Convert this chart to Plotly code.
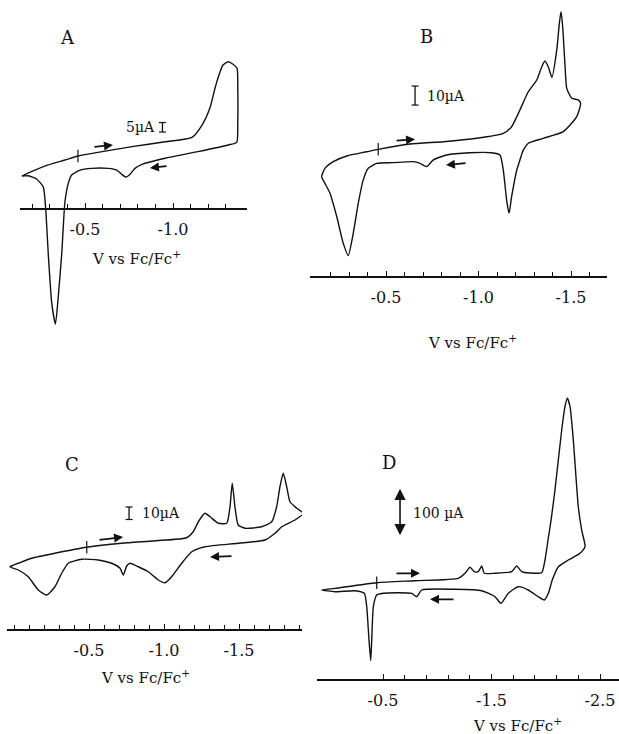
import numpy as np
import plotly.graph_objects as go

W, H = 619, 734
FONT = "DejaVu Serif"
INK = "#111111"

# ---- Cyclic voltammograms: potential (V vs Fc/Fc+) and current (µA) ----
# Each loop starts at the initial potential, runs cathodic (right), returns anodic (left)
a_potential = [-0.460, -0.597, -0.767, -0.955, -1.108, -1.165, -1.210, -1.239, -1.267, -1.284,
               -1.313, -1.341, -1.364, -1.368, -1.368, -1.362,
               -1.313, -1.142, -0.955, -0.824, -0.784, -0.756, -0.733, -0.708, -0.680, -0.632,
               -0.538, -0.472, -0.424, -0.405, -0.386, -0.368, -0.348, -0.332, -0.311, -0.291,
               -0.277, -0.263, -0.225, -0.178, -0.142,
               -0.216, -0.291, -0.386, -0.460]
a_current = [27.9, 30.2, 32.8, 35.4, 37.7, 44.2, 53.2, 63.7, 72.1, 75.8,
             77.5, 76.2, 74.1, 63.7, 45.8, 35.1,
             33.7, 30.2, 26.7, 23.5, 21.4, 18.3, 16.8, 18.3, 20.5, 21.4,
             21.4, 20.5, 17.9, 13.5, 3.8, -23.2, -46.3, -60.5, -49.5, -23.2,
             -0.5, 11.6, 15.8, 17.5, 17.4,
             20.5, 23.2, 25.8, 27.9]

b_potential = [-0.458, -0.630, -0.810, -0.990, -1.134, -1.179, -1.224, -1.269, -1.315, -1.342,
               -1.359, -1.377, -1.397, -1.423, -1.437, -1.446, -1.455, -1.468, -1.477, -1.504,
               -1.539, -1.552,
               -1.531, -1.458, -1.350, -1.269, -1.242, -1.224, -1.207, -1.179, -1.165, -1.152,
               -1.134, -1.116, -1.071, -0.954, -0.828, -0.756, -0.720, -0.684, -0.648, -0.539,
               -0.450, -0.404, -0.377, -0.350, -0.323, -0.296, -0.269, -0.234, -0.197, -0.170,
               -0.152,
               -0.170, -0.215, -0.288, -0.396, -0.458]
b_current = [67.2, 70.0, 71.2, 73.0, 75.6, 79.1, 87.9, 97.5, 103.7, 110.7,
             113.7, 110.7, 105.1, 119.5, 133.5, 139.6, 131.7, 110.7, 99.3, 94.1,
             93.2, 91.4,
             84.4, 76.5, 73.0, 70.4, 66.8, 61.6, 56.3, 42.3, 33.5, 40.5,
             56.3, 64.2, 65.4, 65.4, 64.2, 61.6, 58.1, 59.8, 60.7, 60.2,
             59.8, 57.2, 51.1, 38.8, 23.0, 11.3, 17.7, 31.7, 44.1, 49.3,
             52.8,
             57.2, 60.7, 63.7, 65.9, 67.2]

c_potential = [-0.485, -0.718, -0.940, -1.151, -1.195, -1.229, -1.273, -1.307, -1.362, -1.418,
               -1.440, -1.455, -1.473, -1.495, -1.540, -1.651, -1.718, -1.751, -1.773, -1.795,
               -1.818, -1.840, -1.885, -1.929,
               -1.873, -1.785, -1.740, -1.673, -1.495, -1.273, -1.185, -1.118, -1.051, -1.007,
               -0.962, -0.895, -0.829, -0.773, -0.751, -0.729, -0.707, -0.651, -0.562, -0.451,
               -0.362, -0.318, -0.273, -0.218, -0.162, -0.095, -0.029, 0.027,
               -0.029, -0.118, -0.273, -0.485]
c_current = [66.2, 69.4, 71.4, 73.8, 78.6, 86.6, 93.4, 90.6, 85.4, 85.4,
             98.6, 117.4, 98.6, 84.0, 81.4, 82.6, 86.6, 98.6, 114.6, 125.4,
             114.6, 102.6, 97.4, 93.4,
             88.0, 82.6, 77.4, 72.0, 69.4, 66.6, 62.6, 53.4, 42.6, 37.8,
             40.0, 46.6, 50.6, 53.4, 51.2, 44.0, 49.4, 53.4, 56.0, 56.6,
             53.4, 45.4, 34.6, 28.0, 32.0, 42.6, 48.0, 50.6,
             53.4, 57.4, 61.4, 66.2]

d_potential = [-0.442, -0.795, -1.194, -1.256, -1.302, -1.341, -1.378, -1.410, -1.434, -1.532,
               -1.686, -1.732, -1.778, -1.901, -1.963, -1.993, -2.021, -2.049, -2.085, -2.147,
               -2.177, -2.199, -2.224, -2.254, -2.300, -2.331, -2.362,
               -2.316, -2.208, -2.116, -2.060, -2.024, -1.987, -1.931, -1.839, -1.747, -1.655,
               -1.588, -1.532, -1.410, -1.164, -0.857, -0.811, -0.765, -0.641, -0.503, -0.442,
               -0.411, -0.396, -0.387, -0.371, -0.350, -0.328, -0.242, -0.058, 0.065,
               -0.058, -0.442]
d_current = [202.7, 206.9, 211.9, 222.3, 234.8, 225.6, 225.6, 237.5, 222.3, 222.3,
             225.6, 237.5, 225.6, 222.3, 223.5, 250.0, 291.7, 333.0, 395.8, 520.8,
             569.4, 586.9, 569.4, 500.0, 361.0, 312.5, 277.7,
             264.0, 250.0, 236.0, 208.3, 180.6, 166.7, 173.5, 187.5, 194.4, 180.6,
             159.8, 173.5, 186.0, 189.0, 187.5, 173.5, 180.6, 181.9, 180.6, 177.0,
             152.7, 83.3, 40.2, 83.3, 152.7, 180.6, 186.0, 184.0, 187.5,
             191.0, 202.7]

# initial potential of each scan (small vertical tick on the trace)
start_potential = [-0.460, -0.458, -0.485, -0.442]
start_current = [27.9, 67.2, 66.2, 202.7]

# current scale bars: potential, lower current, size in µA, label
scale_potential = [-0.940, -0.657, -0.767, -0.657]
scale_base = [40.5, 90.5, 88.4, 298.5]
scale_size = [5, 10, 10, 100]
scale_text = ["5µA", "10µA", "10µA", "100 µA"]

# scan-direction arrows: (tail V, tail I, head V, head I)
arrows_a = [(-0.545, 32.6, -0.659, 33.7), (-0.972, 22.6, -0.869, 21.6)]
arrows_b = [(-0.549, 71.7, -0.657, 72.5), (-0.938, 60.0, -0.824, 58.9)]
arrows_c = [(-0.560, 72.0, -0.727, 74.4), (-1.460, 59.2, -1.307, 58.4)]
arrows_d = [(-0.611, 222.3, -0.841, 222.3), (-1.164, 168.1, -0.933, 168.1)]

panel_letters = ["A", "B", "C", "D"]
tick_labels = [["-0.5", "-1.0"], ["-0.5", "-1.0", "-1.5"],
               ["-0.5", "-1.0", "-1.5"], ["-0.5", "-1.5", "-2.5"]]
tick_values = [[-0.5, -1.0], [-0.5, -1.0, -1.5], [-0.5, -1.0, -1.5], [-0.5, -1.5, -2.5]]

# ---- page geometry of each panel (pixels) ----
geom = [
    dict(x_px=(20, 247), ref_px=85, px_per_v=176, top=45, bot=335, axis=209, px_per_ua=1.9,
         minor=(-0.2, -1.3, 0.1), letter=(67, 37), title=(136, 258)),
    dict(x_px=(310, 607), ref_px=386, px_per_v=185, top=0, bot=292, axis=277, px_per_ua=1.9,
         minor=(-0.2, -1.6, 0.1), letter=(427, 36), title=(472, 342)),
    dict(x_px=(7, 302), ref_px=89, px_per_v=150, top=440, bot=642, axis=630, px_per_ua=1.25,
         minor=(0.0, -1.9, 0.1), letter=(72, 464), title=(145, 677)),
    dict(x_px=(317, 619), ref_px=383, px_per_v=108.5, top=385, bot=692, axis=680, px_per_ua=0.48,
         minor=(-0.5, -2.5, 0.2), letter=(389, 462), title=(517, 725)),
]

series = [(a_potential, a_current), (b_potential, b_current),
          (c_potential, c_current), (d_potential, d_current)]
arrow_sets = [arrows_a, arrows_b, arrows_c, arrows_d]

fig = go.Figure()
annotations = []
layout = dict(
    width=W, height=H, margin=dict(l=0, r=0, t=0, b=0),
    paper_bgcolor="white", plot_bgcolor="rgba(0,0,0,0)", showlegend=False,
)

for k, g in enumerate(geom):
    sfx = "" if k == 0 else str(k + 1)
    xname, yname = "x" + sfx, "y" + sfx

    def volt(px, g=g):
        return -0.5 - (px - g["ref_px"]) / g["px_per_v"]

    def amp(py, g=g):
        return (g["axis"] - py) / g["px_per_ua"]

    pot, cur = series[k]
    fig.add_trace(go.Scatter(
        x=pot, y=cur, mode="lines", xaxis=xname, yaxis=yname,
        line=dict(color=INK, width=1.4, shape="spline", smoothing=0.55),
        hoverinfo="skip"))
    # initial potential tick
    fig.add_trace(go.Scatter(
        x=[start_potential[k]], y=[start_current[k]], mode="markers",
        xaxis=xname, yaxis=yname,
        marker=dict(symbol="line-ns", size=9, line=dict(color=INK, width=1.2)),
        hoverinfo="skip"))

    # current scale bar
    sv, sb, ss = scale_potential[k], scale_base[k], scale_size[k]
    if k < 3:
        fig.add_trace(go.Scatter(
            x=[sv, sv], y=[sb, sb + ss], mode="lines+markers",
            xaxis=xname, yaxis=yname,
            line=dict(color=INK, width=1.3),
            marker=dict(symbol="line-ew", size=5, line=dict(color=INK, width=1.2)),
            hoverinfo="skip"))
    else:
        annotations.append(dict(
            x=sv, y=sb + ss, ax=sv, ay=sb, xref=xname, yref=yname,
            axref=xname, ayref=yname, showarrow=True, text="",
            arrowhead=2, arrowsize=1.4, arrowwidth=1.6, arrowcolor=INK,
            arrowside="end+start", startarrowhead=2, startarrowsize=1.4))
    annotations.append(dict(
        x=sv, y=sb + ss / 2, xref=xname, yref=yname, showarrow=False,
        text=scale_text[k], xanchor="right" if k == 0 else "left",
        xshift=-5 if k == 0 else (10 if k == 1 else 11),
        font=dict(family=FONT, size=14, color=INK)))

    # scan-direction arrows
    for tv, ti, hv, hi in arrow_sets[k]:
        annotations.append(dict(
            x=hv, y=hi, ax=tv, ay=ti, xref=xname, yref=yname,
            axref=xname, ayref=yname, showarrow=True, text="",
            arrowhead=2, arrowsize=1.0, arrowwidth=1.8, arrowcolor=INK))

    # panel letter and axis title
    annotations.append(dict(
        x=g["letter"][0] / W, y=1 - g["letter"][1] / H, xref="paper", yref="paper",
        text=panel_letters[k], showarrow=False, xanchor="center", yanchor="middle",
        font=dict(family=FONT, size=18, color=INK)))
    annotations.append(dict(
        x=g["title"][0] / W, y=1 - g["title"][1] / H, xref="paper", yref="paper",
        text="V vs Fc/Fc<sup>+</sup>", showarrow=False, xanchor="center", yanchor="middle",
        font=dict(family=FONT, size=15, color=INK)))

    m0, m1, md = g["minor"]
    minor_vals = list(np.round(np.arange(m0, m1 - md / 2, -md), 2))
    x0, x1 = g["x_px"]
    layout["xaxis" + sfx] = dict(
        domain=[x0 / W, x1 / W], range=[volt(x0), volt(x1)],
        anchor="free", position=1 - g["axis"] / H,
        showline=True, linecolor=INK, linewidth=1.7,
        showgrid=False, zeroline=False, fixedrange=True,
        tickmode="array", tickvals=tick_values[k], ticktext=tick_labels[k],
        ticks="inside", ticklen=5, tickwidth=1.1, tickcolor=INK,
        ticklabelstandoff=6,
        tickfont=dict(family=FONT, size=16, color=INK),
        minor=dict(tickmode="array", tickvals=minor_vals, ticks="inside",
                   ticklen=4, tickwidth=1, tickcolor=INK),
    )
    layout["yaxis" + sfx] = dict(
        domain=[1 - g["bot"] / H, 1 - g["top"] / H],
        range=[amp(g["bot"]), amp(g["top"])],
        visible=False, fixedrange=True,
    )

layout["annotations"] = annotations
fig.update_layout(**layout)
fig.write_html("out.html")
